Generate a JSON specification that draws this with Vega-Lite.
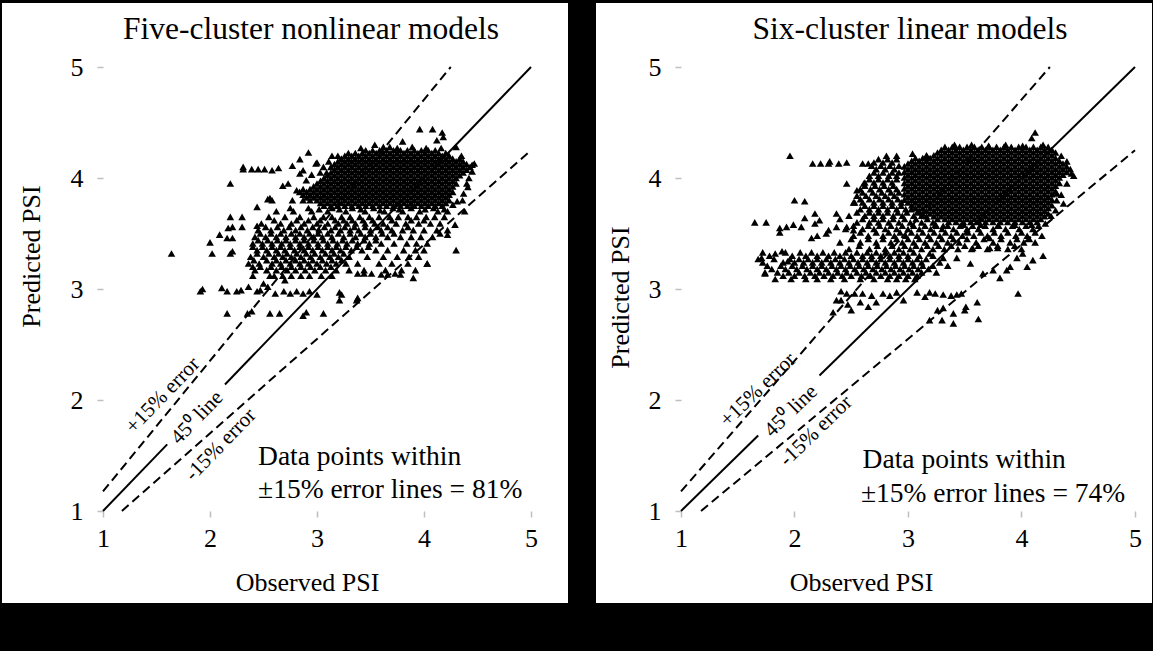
{
"$schema":"https://vega.github.io/schema/vega-lite/v6.json",
"background":"black",
"padding":{"left":2,"top":3,"right":1,"bottom":48},
"bounds":"flush",
"spacing":28,
"config":{
 "view":{"fill":"white","stroke":null},
 "font":"Liberation Serif",
 "axis":{"labelFont":"Liberation Serif","labelFontSize":26,"labelColor":"black","titleFont":"Liberation Serif","titleFontSize":26,"titleFontWeight":"normal","titleColor":"black","tickColor":"#bfbfbf","tickWidth":1.5,"tickSize":6,"domain":false,"grid":false,"labelFlush":false,"labelOverlap":false,"labelBound":false},
 "axisX":{"labelPadding":8,"titleBaseline":"alphabetic","titleAlign":"center"},
 "axisY":{"labelPadding":14,"titleBaseline":"middle","titleAlign":"center","titleAngle":-90}
},
"datasets":{
"L":[
{"x":3.455,"y":4.25},{"x":3.52,"y":4.25},{"x":3.585,"y":4.25},{"x":3.65,"y":4.25},{"x":3.715,"y":4.25},{"x":3.78,"y":4.25},{"x":3.845,"y":4.25},{"x":3.91,"y":4.25},{"x":3.975,"y":4.25},{"x":4.04,"y":4.25},{"x":4.105,"y":4.25},
{"x":3.293,"y":4.225},{"x":3.358,"y":4.225},{"x":3.423,"y":4.225},{"x":3.488,"y":4.225},{"x":3.553,"y":4.225},{"x":3.618,"y":4.225},{"x":3.683,"y":4.225},{"x":3.748,"y":4.225},{"x":3.813,"y":4.225},{"x":3.878,"y":4.225},{"x":3.943,"y":4.225},{"x":4.008,"y":4.225},{"x":4.073,"y":4.225},{"x":4.138,"y":4.225},{"x":4.203,"y":4.225},
{"x":3.195,"y":4.2},{"x":3.26,"y":4.2},{"x":3.325,"y":4.2},{"x":3.39,"y":4.2},{"x":3.455,"y":4.2},{"x":3.52,"y":4.2},{"x":3.585,"y":4.2},{"x":3.65,"y":4.2},{"x":3.715,"y":4.2},{"x":3.78,"y":4.2},{"x":3.845,"y":4.2},{"x":3.91,"y":4.2},{"x":3.975,"y":4.2},{"x":4.04,"y":4.2},{"x":4.105,"y":4.2},{"x":4.17,"y":4.2},{"x":4.235,"y":4.2},
{"x":3.228,"y":4.175},{"x":3.293,"y":4.175},{"x":3.358,"y":4.175},{"x":3.423,"y":4.175},{"x":3.488,"y":4.175},{"x":3.553,"y":4.175},{"x":3.618,"y":4.175},{"x":3.683,"y":4.175},{"x":3.748,"y":4.175},{"x":3.813,"y":4.175},{"x":3.878,"y":4.175},{"x":3.943,"y":4.175},{"x":4.008,"y":4.175},{"x":4.073,"y":4.175},{"x":4.138,"y":4.175},{"x":4.203,"y":4.175},{"x":4.268,"y":4.175},{"x":4.333,"y":4.175},
{"x":3.195,"y":4.15},{"x":3.26,"y":4.15},{"x":3.325,"y":4.15},{"x":3.39,"y":4.15},{"x":3.455,"y":4.15},{"x":3.52,"y":4.15},{"x":3.585,"y":4.15},{"x":3.65,"y":4.15},{"x":3.715,"y":4.15},{"x":3.78,"y":4.15},{"x":3.845,"y":4.15},{"x":3.91,"y":4.15},{"x":3.975,"y":4.15},{"x":4.04,"y":4.15},{"x":4.105,"y":4.15},{"x":4.17,"y":4.15},{"x":4.235,"y":4.15},{"x":4.3,"y":4.15},{"x":4.365,"y":4.15},
{"x":3.163,"y":4.125},{"x":3.228,"y":4.125},{"x":3.293,"y":4.125},{"x":3.358,"y":4.125},{"x":3.423,"y":4.125},{"x":3.488,"y":4.125},{"x":3.553,"y":4.125},{"x":3.618,"y":4.125},{"x":3.683,"y":4.125},{"x":3.748,"y":4.125},{"x":3.813,"y":4.125},{"x":3.878,"y":4.125},{"x":3.943,"y":4.125},{"x":4.008,"y":4.125},{"x":4.073,"y":4.125},{"x":4.138,"y":4.125},{"x":4.203,"y":4.125},{"x":4.268,"y":4.125},{"x":4.333,"y":4.125},{"x":4.398,"y":4.125},
{"x":3.13,"y":4.1},{"x":3.195,"y":4.1},{"x":3.26,"y":4.1},{"x":3.325,"y":4.1},{"x":3.39,"y":4.1},{"x":3.455,"y":4.1},{"x":3.52,"y":4.1},{"x":3.585,"y":4.1},{"x":3.65,"y":4.1},{"x":3.715,"y":4.1},{"x":3.78,"y":4.1},{"x":3.845,"y":4.1},{"x":3.91,"y":4.1},{"x":3.975,"y":4.1},{"x":4.04,"y":4.1},{"x":4.105,"y":4.1},{"x":4.17,"y":4.1},{"x":4.235,"y":4.1},{"x":4.3,"y":4.1},{"x":4.365,"y":4.1},{"x":4.43,"y":4.1},
{"x":3.163,"y":4.075},{"x":3.228,"y":4.075},{"x":3.293,"y":4.075},{"x":3.358,"y":4.075},{"x":3.423,"y":4.075},{"x":3.488,"y":4.075},{"x":3.553,"y":4.075},{"x":3.618,"y":4.075},{"x":3.683,"y":4.075},{"x":3.748,"y":4.075},{"x":3.813,"y":4.075},{"x":3.878,"y":4.075},{"x":3.943,"y":4.075},{"x":4.008,"y":4.075},{"x":4.073,"y":4.075},{"x":4.138,"y":4.075},{"x":4.203,"y":4.075},{"x":4.268,"y":4.075},{"x":4.333,"y":4.075},{"x":4.398,"y":4.075},
{"x":3.13,"y":4.05},{"x":3.195,"y":4.05},{"x":3.26,"y":4.05},{"x":3.325,"y":4.05},{"x":3.39,"y":4.05},{"x":3.455,"y":4.05},{"x":3.52,"y":4.05},{"x":3.585,"y":4.05},{"x":3.65,"y":4.05},{"x":3.715,"y":4.05},{"x":3.78,"y":4.05},{"x":3.845,"y":4.05},{"x":3.91,"y":4.05},{"x":3.975,"y":4.05},{"x":4.04,"y":4.05},{"x":4.105,"y":4.05},{"x":4.17,"y":4.05},{"x":4.235,"y":4.05},{"x":4.3,"y":4.05},{"x":4.365,"y":4.05},
{"x":3.098,"y":4.025},{"x":3.163,"y":4.025},{"x":3.228,"y":4.025},{"x":3.293,"y":4.025},{"x":3.358,"y":4.025},{"x":3.423,"y":4.025},{"x":3.488,"y":4.025},{"x":3.553,"y":4.025},{"x":3.618,"y":4.025},{"x":3.683,"y":4.025},{"x":3.748,"y":4.025},{"x":3.813,"y":4.025},{"x":3.878,"y":4.025},{"x":3.943,"y":4.025},{"x":4.008,"y":4.025},{"x":4.073,"y":4.025},{"x":4.138,"y":4.025},{"x":4.203,"y":4.025},{"x":4.268,"y":4.025},{"x":4.333,"y":4.025},
{"x":3.065,"y":4.0},{"x":3.13,"y":4.0},{"x":3.195,"y":4.0},{"x":3.26,"y":4.0},{"x":3.325,"y":4.0},{"x":3.39,"y":4.0},{"x":3.455,"y":4.0},{"x":3.52,"y":4.0},{"x":3.585,"y":4.0},{"x":3.65,"y":4.0},{"x":3.715,"y":4.0},{"x":3.78,"y":4.0},{"x":3.845,"y":4.0},{"x":3.91,"y":4.0},{"x":3.975,"y":4.0},{"x":4.04,"y":4.0},{"x":4.105,"y":4.0},{"x":4.17,"y":4.0},{"x":4.235,"y":4.0},{"x":4.3,"y":4.0},
{"x":3.033,"y":3.975},{"x":3.098,"y":3.975},{"x":3.163,"y":3.975},{"x":3.228,"y":3.975},{"x":3.293,"y":3.975},{"x":3.358,"y":3.975},{"x":3.423,"y":3.975},{"x":3.488,"y":3.975},{"x":3.553,"y":3.975},{"x":3.618,"y":3.975},{"x":3.683,"y":3.975},{"x":3.748,"y":3.975},{"x":3.813,"y":3.975},{"x":3.878,"y":3.975},{"x":3.943,"y":3.975},{"x":4.008,"y":3.975},{"x":4.073,"y":3.975},{"x":4.138,"y":3.975},{"x":4.203,"y":3.975},{"x":4.268,"y":3.975},
{"x":3.0,"y":3.95},{"x":3.065,"y":3.95},{"x":3.13,"y":3.95},{"x":3.195,"y":3.95},{"x":3.26,"y":3.95},{"x":3.325,"y":3.95},{"x":3.39,"y":3.95},{"x":3.455,"y":3.95},{"x":3.52,"y":3.95},{"x":3.585,"y":3.95},{"x":3.65,"y":3.95},{"x":3.715,"y":3.95},{"x":3.78,"y":3.95},{"x":3.845,"y":3.95},{"x":3.91,"y":3.95},{"x":3.975,"y":3.95},{"x":4.04,"y":3.95},{"x":4.105,"y":3.95},{"x":4.17,"y":3.95},{"x":4.235,"y":3.95},{"x":4.3,"y":3.95},
{"x":2.968,"y":3.925},{"x":3.033,"y":3.925},{"x":3.098,"y":3.925},{"x":3.163,"y":3.925},{"x":3.228,"y":3.925},{"x":3.293,"y":3.925},{"x":3.358,"y":3.925},{"x":3.423,"y":3.925},{"x":3.488,"y":3.925},{"x":3.553,"y":3.925},{"x":3.618,"y":3.925},{"x":3.683,"y":3.925},{"x":3.748,"y":3.925},{"x":3.813,"y":3.925},{"x":3.878,"y":3.925},{"x":3.943,"y":3.925},{"x":4.008,"y":3.925},{"x":4.073,"y":3.925},{"x":4.138,"y":3.925},{"x":4.203,"y":3.925},{"x":4.268,"y":3.925},
{"x":2.87,"y":3.9},{"x":2.935,"y":3.9},{"x":3.0,"y":3.9},{"x":3.065,"y":3.9},{"x":3.13,"y":3.9},{"x":3.195,"y":3.9},{"x":3.26,"y":3.9},{"x":3.325,"y":3.9},{"x":3.39,"y":3.9},{"x":3.455,"y":3.9},{"x":3.52,"y":3.9},{"x":3.585,"y":3.9},{"x":3.65,"y":3.9},{"x":3.715,"y":3.9},{"x":3.78,"y":3.9},{"x":3.845,"y":3.9},{"x":3.91,"y":3.9},{"x":3.975,"y":3.9},{"x":4.04,"y":3.9},{"x":4.105,"y":3.9},{"x":4.17,"y":3.9},{"x":4.235,"y":3.9},
{"x":2.838,"y":3.875},{"x":2.903,"y":3.875},{"x":2.968,"y":3.875},{"x":3.033,"y":3.875},{"x":3.098,"y":3.875},{"x":3.163,"y":3.875},{"x":3.228,"y":3.875},{"x":3.293,"y":3.875},{"x":3.358,"y":3.875},{"x":3.423,"y":3.875},{"x":3.488,"y":3.875},{"x":3.553,"y":3.875},{"x":3.618,"y":3.875},{"x":3.683,"y":3.875},{"x":3.748,"y":3.875},{"x":3.813,"y":3.875},{"x":3.878,"y":3.875},{"x":3.943,"y":3.875},{"x":4.008,"y":3.875},{"x":4.073,"y":3.875},{"x":4.138,"y":3.875},{"x":4.203,"y":3.875},{"x":4.268,"y":3.875},
{"x":2.87,"y":3.85},{"x":2.935,"y":3.85},{"x":3.0,"y":3.85},{"x":3.065,"y":3.85},{"x":3.13,"y":3.85},{"x":3.195,"y":3.85},{"x":3.26,"y":3.85},{"x":3.325,"y":3.85},{"x":3.39,"y":3.85},{"x":3.455,"y":3.85},{"x":3.52,"y":3.85},{"x":3.585,"y":3.85},{"x":3.65,"y":3.85},{"x":3.715,"y":3.85},{"x":3.78,"y":3.85},{"x":3.845,"y":3.85},{"x":3.91,"y":3.85},{"x":3.975,"y":3.85},{"x":4.04,"y":3.85},{"x":4.105,"y":3.85},{"x":4.17,"y":3.85},{"x":4.235,"y":3.85},
{"x":2.903,"y":3.825},{"x":2.968,"y":3.825},{"x":3.033,"y":3.825},{"x":3.098,"y":3.825},{"x":3.163,"y":3.825},{"x":3.228,"y":3.825},{"x":3.293,"y":3.825},{"x":3.358,"y":3.825},{"x":3.423,"y":3.825},{"x":3.488,"y":3.825},{"x":3.553,"y":3.825},{"x":3.618,"y":3.825},{"x":3.683,"y":3.825},{"x":3.748,"y":3.825},{"x":3.813,"y":3.825},{"x":3.878,"y":3.825},{"x":3.943,"y":3.825},{"x":4.008,"y":3.825},{"x":4.073,"y":3.825},{"x":4.138,"y":3.825},{"x":4.203,"y":3.825},
{"x":2.87,"y":3.8},{"x":2.935,"y":3.8},{"x":3.0,"y":3.8},{"x":3.065,"y":3.8},{"x":3.13,"y":3.8},{"x":3.195,"y":3.8},{"x":3.26,"y":3.8},{"x":3.325,"y":3.8},{"x":3.39,"y":3.8},{"x":3.455,"y":3.8},{"x":3.52,"y":3.8},{"x":3.585,"y":3.8},{"x":3.65,"y":3.8},{"x":3.715,"y":3.8},{"x":3.78,"y":3.8},{"x":3.845,"y":3.8},{"x":3.91,"y":3.8},{"x":3.975,"y":3.8},{"x":4.04,"y":3.8},{"x":4.105,"y":3.8},{"x":4.17,"y":3.8},{"x":4.235,"y":3.8},
{"x":3.033,"y":3.775},{"x":3.098,"y":3.775},{"x":3.163,"y":3.775},{"x":3.228,"y":3.775},{"x":3.293,"y":3.775},{"x":3.358,"y":3.775},{"x":3.423,"y":3.775},{"x":3.488,"y":3.775},{"x":3.553,"y":3.775},{"x":3.618,"y":3.775},{"x":3.683,"y":3.775},{"x":3.748,"y":3.775},{"x":3.813,"y":3.775},{"x":3.878,"y":3.775},{"x":3.943,"y":3.775},{"x":4.008,"y":3.775},{"x":4.073,"y":3.775},{"x":4.138,"y":3.775},{"x":4.203,"y":3.775},
{"x":3.065,"y":3.75},{"x":3.13,"y":3.75},{"x":3.195,"y":3.75},{"x":3.26,"y":3.75},{"x":3.325,"y":3.75},{"x":3.39,"y":3.75},{"x":3.455,"y":3.75},{"x":3.52,"y":3.75},{"x":3.585,"y":3.75},{"x":3.65,"y":3.75},{"x":3.715,"y":3.75},{"x":3.78,"y":3.75},{"x":3.845,"y":3.75},{"x":3.91,"y":3.75},{"x":3.975,"y":3.75},{"x":4.04,"y":3.75},{"x":4.105,"y":3.75},{"x":4.17,"y":3.75},
{"x":2.92,"y":3.73},{"x":3.02,"y":3.72},{"x":3.14,"y":3.73},{"x":3.21,"y":3.72},{"x":3.33,"y":3.73},{"x":3.41,"y":3.72},{"x":3.53,"y":3.73},{"x":3.59,"y":3.71},{"x":3.71,"y":3.73},{"x":3.77,"y":3.72},{"x":3.88,"y":3.73},{"x":4.01,"y":3.72},{"x":4.09,"y":3.73},{"x":4.19,"y":3.72},{"x":4.27,"y":3.76},
{"x":3.41,"y":4.27},{"x":3.62,"y":4.28},{"x":3.75,"y":4.27},{"x":3.89,"y":4.28},{"x":4.02,"y":4.27},{"x":4.16,"y":4.27},
{"x":4.42,"y":4.00},{"x":4.45,"y":4.06},{"x":4.41,"y":3.92},{"x":4.37,"y":3.86},{"x":4.31,"y":3.79},{"x":3.09,"y":4.05},{"x":3.11,"y":4.15},{"x":3.14,"y":4.20},{"x":3.06,"y":4.10},
{"x":2.62,"y":3.70},{"x":2.78,"y":3.70},{"x":2.95,"y":3.70},{"x":3.10,"y":3.70},{"x":3.27,"y":3.70},{"x":3.45,"y":3.70},{"x":3.63,"y":3.70},{"x":3.80,"y":3.70},{"x":3.96,"y":3.70},{"x":4.13,"y":3.70},{"x":4.22,"y":3.70},
{"x":2.55,"y":3.65},{"x":2.70,"y":3.65},{"x":2.84,"y":3.65},{"x":2.97,"y":3.65},{"x":3.06,"y":3.65},{"x":3.14,"y":3.65},{"x":3.23,"y":3.65},{"x":3.31,"y":3.65},{"x":3.40,"y":3.65},{"x":3.49,"y":3.65},{"x":3.58,"y":3.65},{"x":3.68,"y":3.65},{"x":3.76,"y":3.65},{"x":3.85,"y":3.65},{"x":3.93,"y":3.65},{"x":4.02,"y":3.65},{"x":4.10,"y":3.65},{"x":4.19,"y":3.65},
{"x":2.60,"y":3.62},{"x":2.81,"y":3.62},{"x":2.92,"y":3.62},{"x":3.03,"y":3.62},{"x":3.17,"y":3.62},{"x":3.25,"y":3.62},{"x":3.33,"y":3.62},{"x":3.43,"y":3.62},{"x":3.52,"y":3.62},{"x":3.70,"y":3.62},{"x":3.88,"y":3.62},{"x":4.00,"y":3.62},
{"x":2.48,"y":3.59},{"x":2.66,"y":3.59},{"x":2.76,"y":3.59},{"x":2.88,"y":3.59},{"x":3.00,"y":3.59},{"x":3.10,"y":3.59},{"x":3.20,"y":3.59},{"x":3.28,"y":3.59},{"x":3.36,"y":3.59},{"x":3.45,"y":3.59},{"x":3.54,"y":3.59},{"x":3.62,"y":3.59},{"x":3.74,"y":3.59},{"x":3.83,"y":3.59},{"x":3.95,"y":3.59},{"x":4.06,"y":3.59},{"x":4.15,"y":3.59},
{"x":2.52,"y":3.56},{"x":2.63,"y":3.56},{"x":2.74,"y":3.56},{"x":2.85,"y":3.56},{"x":2.96,"y":3.56},{"x":3.07,"y":3.56},{"x":3.17,"y":3.56},{"x":3.26,"y":3.56},{"x":3.35,"y":3.56},{"x":3.45,"y":3.56},{"x":3.57,"y":3.56},{"x":3.66,"y":3.56},{"x":3.85,"y":3.56},
{"x":2.45,"y":3.53},{"x":2.57,"y":3.53},{"x":2.69,"y":3.53},{"x":2.80,"y":3.53},{"x":2.91,"y":3.53},{"x":3.02,"y":3.53},{"x":3.13,"y":3.53},{"x":3.22,"y":3.53},{"x":3.31,"y":3.53},{"x":3.39,"y":3.53},{"x":3.50,"y":3.53},{"x":3.60,"y":3.53},{"x":3.70,"y":3.53},{"x":3.80,"y":3.53},{"x":3.90,"y":3.53},{"x":4.00,"y":3.53},{"x":4.12,"y":3.53},{"x":4.22,"y":3.53},
{"x":2.47,"y":3.50},{"x":2.57,"y":3.50},{"x":2.66,"y":3.50},{"x":2.76,"y":3.50},{"x":2.84,"y":3.50},{"x":2.93,"y":3.50},{"x":3.01,"y":3.50},{"x":3.10,"y":3.50},{"x":3.20,"y":3.50},{"x":3.31,"y":3.50},{"x":3.41,"y":3.50},{"x":3.50,"y":3.50},{"x":3.61,"y":3.50},{"x":3.72,"y":3.50},
{"x":2.42,"y":3.47},{"x":2.52,"y":3.47},{"x":2.62,"y":3.47},{"x":2.71,"y":3.47},{"x":2.80,"y":3.47},{"x":2.88,"y":3.47},{"x":2.97,"y":3.47},{"x":3.05,"y":3.47},{"x":3.14,"y":3.47},{"x":3.25,"y":3.47},{"x":3.36,"y":3.47},{"x":3.45,"y":3.47},{"x":3.55,"y":3.47},{"x":3.66,"y":3.47},{"x":3.78,"y":3.47},{"x":3.88,"y":3.47},{"x":3.97,"y":3.47},{"x":4.08,"y":3.47},
{"x":2.45,"y":3.44},{"x":2.54,"y":3.44},{"x":2.63,"y":3.44},{"x":2.71,"y":3.44},{"x":2.80,"y":3.44},{"x":2.88,"y":3.44},{"x":2.97,"y":3.44},{"x":3.06,"y":3.44},{"x":3.15,"y":3.44},{"x":3.24,"y":3.44},{"x":3.33,"y":3.44},{"x":3.44,"y":3.44},{"x":3.55,"y":3.44},
{"x":2.40,"y":3.41},{"x":2.49,"y":3.41},{"x":2.58,"y":3.41},{"x":2.67,"y":3.41},{"x":2.75,"y":3.41},{"x":2.84,"y":3.41},{"x":2.92,"y":3.41},{"x":3.01,"y":3.41},{"x":3.10,"y":3.41},{"x":3.19,"y":3.41},{"x":3.28,"y":3.41},{"x":3.38,"y":3.41},{"x":3.49,"y":3.41},{"x":3.60,"y":3.41},{"x":3.72,"y":3.41},{"x":3.84,"y":3.41},{"x":3.93,"y":3.41},{"x":4.03,"y":3.41},
{"x":2.40,"y":3.38},{"x":2.49,"y":3.38},{"x":2.58,"y":3.38},{"x":2.66,"y":3.38},{"x":2.75,"y":3.38},{"x":2.84,"y":3.38},{"x":2.92,"y":3.38},{"x":3.01,"y":3.38},{"x":3.10,"y":3.38},{"x":3.18,"y":3.38},{"x":3.27,"y":3.38},{"x":3.37,"y":3.38},{"x":3.48,"y":3.38},
{"x":2.44,"y":3.35},{"x":2.53,"y":3.35},{"x":2.62,"y":3.35},{"x":2.70,"y":3.35},{"x":2.79,"y":3.35},{"x":2.88,"y":3.35},{"x":2.96,"y":3.35},{"x":3.05,"y":3.35},{"x":3.14,"y":3.35},{"x":3.22,"y":3.35},{"x":3.32,"y":3.35},{"x":3.42,"y":3.35},{"x":3.55,"y":3.35},{"x":3.66,"y":3.35},{"x":3.81,"y":3.35},{"x":3.92,"y":3.35},{"x":4.00,"y":3.35},
{"x":2.44,"y":3.32},{"x":2.55,"y":3.32},{"x":2.64,"y":3.32},{"x":2.72,"y":3.32},{"x":2.81,"y":3.32},{"x":2.90,"y":3.32},{"x":2.98,"y":3.32},{"x":3.08,"y":3.32},{"x":3.16,"y":3.32},{"x":3.25,"y":3.32},
{"x":2.38,"y":3.29},{"x":2.50,"y":3.29},{"x":2.60,"y":3.29},{"x":2.68,"y":3.29},{"x":2.76,"y":3.29},{"x":2.85,"y":3.29},{"x":2.94,"y":3.29},{"x":3.03,"y":3.29},{"x":3.12,"y":3.29},{"x":3.20,"y":3.29},{"x":3.30,"y":3.29},{"x":3.47,"y":3.29},{"x":3.62,"y":3.29},{"x":3.75,"y":3.29},{"x":3.86,"y":3.29},{"x":3.95,"y":3.29},
{"x":2.41,"y":3.26},{"x":2.53,"y":3.26},{"x":2.62,"y":3.26},{"x":2.71,"y":3.26},{"x":2.80,"y":3.26},{"x":2.88,"y":3.26},{"x":2.96,"y":3.26},{"x":3.05,"y":3.26},{"x":3.14,"y":3.26},{"x":3.23,"y":3.26},
{"x":2.36,"y":3.23},{"x":2.46,"y":3.23},{"x":2.58,"y":3.23},{"x":2.66,"y":3.23},{"x":2.75,"y":3.23},{"x":2.84,"y":3.23},{"x":2.92,"y":3.23},{"x":3.00,"y":3.23},{"x":3.09,"y":3.23},{"x":3.18,"y":3.23},{"x":3.27,"y":3.23},{"x":3.38,"y":3.23},{"x":3.58,"y":3.23},{"x":3.70,"y":3.23},{"x":3.85,"y":3.23},{"x":4.03,"y":3.23},
{"x":2.47,"y":3.20},{"x":2.57,"y":3.20},{"x":2.67,"y":3.20},{"x":2.76,"y":3.20},{"x":2.85,"y":3.20},{"x":2.94,"y":3.20},{"x":3.03,"y":3.20},{"x":3.13,"y":3.20},
{"x":2.42,"y":3.17},{"x":2.53,"y":3.17},{"x":2.62,"y":3.17},{"x":2.72,"y":3.17},{"x":2.80,"y":3.17},{"x":2.89,"y":3.17},{"x":2.98,"y":3.17},{"x":3.08,"y":3.17},{"x":3.18,"y":3.17},{"x":3.30,"y":3.17},{"x":3.44,"y":3.17},{"x":3.64,"y":3.17},{"x":3.79,"y":3.17},{"x":3.92,"y":3.17},
{"x":2.40,"y":3.12},{"x":2.56,"y":3.12},{"x":2.68,"y":3.12},{"x":2.76,"y":3.12},{"x":2.85,"y":3.12},{"x":2.93,"y":3.12},{"x":3.04,"y":3.12},{"x":3.14,"y":3.12},{"x":3.38,"y":3.14},{"x":3.44,"y":3.14},{"x":3.51,"y":3.14},{"x":3.60,"y":3.13},{"x":3.66,"y":3.13},{"x":3.73,"y":3.14},{"x":3.90,"y":3.10},
{"x":2.92,"y":4.23},{"x":2.84,"y":4.17},{"x":2.77,"y":4.11},{"x":2.99,"y":4.13},{"x":2.84,"y":4.04},{"x":2.68,"y":3.93},{"x":2.58,"y":3.80},{"x":2.44,"y":3.74},{"x":2.56,"y":3.82},{"x":2.73,"y":3.95},{"x":2.77,"y":3.80},{"x":2.81,"y":3.89},{"x":2.87,"y":4.07},{"x":2.90,"y":3.98},{"x":2.95,"y":4.03},{"x":3.00,"y":4.14},{"x":3.03,"y":4.05},{"x":2.75,"y":3.73},
{"x":2.31,"y":4.08},{"x":2.31,"y":4.10},{"x":2.39,"y":4.08},{"x":2.45,"y":4.08},{"x":2.51,"y":4.08},{"x":2.58,"y":4.07},{"x":2.64,"y":4.09},
{"x":2.19,"y":3.95},{"x":2.54,"y":3.81},{"x":2.19,"y":3.65},{"x":2.30,"y":3.65},{"x":2.17,"y":3.55},{"x":2.21,"y":3.56},{"x":2.30,"y":3.56},{"x":2.44,"y":3.57},{"x":2.09,"y":3.49},{"x":2.16,"y":3.46},{"x":2.21,"y":3.46},{"x":2.00,"y":3.42},{"x":1.64,"y":3.32},{"x":2.02,"y":3.32},{"x":2.19,"y":3.32},{"x":2.21,"y":3.34},{"x":1.93,"y":3.00},{"x":1.91,"y":2.98},
{"x":2.11,"y":3.01},{"x":2.16,"y":2.98},{"x":2.25,"y":2.98},{"x":2.29,"y":2.99},{"x":2.36,"y":3.02},{"x":2.44,"y":2.98},{"x":2.47,"y":2.99},{"x":2.54,"y":3.02},{"x":2.61,"y":2.96},{"x":2.69,"y":2.98},{"x":2.75,"y":2.96},{"x":2.81,"y":2.98},{"x":2.87,"y":2.96},{"x":2.93,"y":2.98},{"x":3.00,"y":2.95},
{"x":2.16,"y":2.78},{"x":2.35,"y":2.78},{"x":2.39,"y":2.80},{"x":2.56,"y":2.78},{"x":2.65,"y":2.78},{"x":2.87,"y":2.76},{"x":2.90,"y":2.79},{"x":3.06,"y":2.78},
{"x":3.21,"y":2.97},{"x":3.21,"y":2.90},{"x":3.37,"y":2.90},{"x":3.23,"y":2.95},{"x":3.38,"y":2.92},
{"x":3.78,"y":3.13},{"x":4.03,"y":3.23},{"x":4.15,"y":3.50},{"x":4.22,"y":3.49},{"x":4.29,"y":3.58},{"x":4.36,"y":3.80},{"x":4.45,"y":4.12},{"x":4.47,"y":4.13},{"x":3.96,"y":4.44},{"x":4.08,"y":4.44},{"x":4.17,"y":4.41},{"x":4.18,"y":4.37},{"x":4.12,"y":4.34},{"x":3.54,"y":4.30},{"x":3.80,"y":4.33},{"x":3.68,"y":4.28},{"x":4.30,"y":4.28},{"x":4.35,"y":4.20},{"x":4.40,"y":3.95},{"x":4.38,"y":3.70},{"x":4.30,"y":3.35},{"x":2.60,"y":3.12},{"x":2.50,"y":3.05},{"x":2.70,"y":3.08},{"x":2.40,"y":3.20}
],
"R":[
{"x":3.325,"y":4.28},{"x":3.39,"y":4.28},{"x":3.455,"y":4.28},{"x":3.52,"y":4.28},{"x":3.585,"y":4.28},{"x":3.65,"y":4.28},{"x":3.715,"y":4.28},{"x":3.78,"y":4.28},{"x":3.845,"y":4.28},{"x":3.91,"y":4.28},{"x":3.975,"y":4.28},{"x":4.04,"y":4.28},{"x":4.105,"y":4.28},{"x":4.17,"y":4.28},{"x":4.235,"y":4.28},
{"x":3.293,"y":4.255},{"x":3.358,"y":4.255},{"x":3.423,"y":4.255},{"x":3.488,"y":4.255},{"x":3.553,"y":4.255},{"x":3.618,"y":4.255},{"x":3.683,"y":4.255},{"x":3.748,"y":4.255},{"x":3.813,"y":4.255},{"x":3.878,"y":4.255},{"x":3.943,"y":4.255},{"x":4.008,"y":4.255},{"x":4.073,"y":4.255},{"x":4.138,"y":4.255},{"x":4.203,"y":4.255},{"x":4.268,"y":4.255},
{"x":3.26,"y":4.23},{"x":3.325,"y":4.23},{"x":3.39,"y":4.23},{"x":3.455,"y":4.23},{"x":3.52,"y":4.23},{"x":3.585,"y":4.23},{"x":3.65,"y":4.23},{"x":3.715,"y":4.23},{"x":3.78,"y":4.23},{"x":3.845,"y":4.23},{"x":3.91,"y":4.23},{"x":3.975,"y":4.23},{"x":4.04,"y":4.23},{"x":4.105,"y":4.23},{"x":4.17,"y":4.23},{"x":4.235,"y":4.23},{"x":4.3,"y":4.23},
{"x":3.163,"y":4.205},{"x":3.228,"y":4.205},{"x":3.293,"y":4.205},{"x":3.358,"y":4.205},{"x":3.423,"y":4.205},{"x":3.488,"y":4.205},{"x":3.553,"y":4.205},{"x":3.618,"y":4.205},{"x":3.683,"y":4.205},{"x":3.748,"y":4.205},{"x":3.813,"y":4.205},{"x":3.878,"y":4.205},{"x":3.943,"y":4.205},{"x":4.008,"y":4.205},{"x":4.073,"y":4.205},{"x":4.138,"y":4.205},{"x":4.203,"y":4.205},{"x":4.268,"y":4.205},
{"x":3.065,"y":4.18},{"x":3.13,"y":4.18},{"x":3.195,"y":4.18},{"x":3.26,"y":4.18},{"x":3.325,"y":4.18},{"x":3.39,"y":4.18},{"x":3.455,"y":4.18},{"x":3.52,"y":4.18},{"x":3.585,"y":4.18},{"x":3.65,"y":4.18},{"x":3.715,"y":4.18},{"x":3.78,"y":4.18},{"x":3.845,"y":4.18},{"x":3.91,"y":4.18},{"x":3.975,"y":4.18},{"x":4.04,"y":4.18},{"x":4.105,"y":4.18},{"x":4.17,"y":4.18},{"x":4.235,"y":4.18},{"x":4.3,"y":4.18},
{"x":3.033,"y":4.155},{"x":3.098,"y":4.155},{"x":3.163,"y":4.155},{"x":3.228,"y":4.155},{"x":3.293,"y":4.155},{"x":3.358,"y":4.155},{"x":3.423,"y":4.155},{"x":3.488,"y":4.155},{"x":3.553,"y":4.155},{"x":3.618,"y":4.155},{"x":3.683,"y":4.155},{"x":3.748,"y":4.155},{"x":3.813,"y":4.155},{"x":3.878,"y":4.155},{"x":3.943,"y":4.155},{"x":4.008,"y":4.155},{"x":4.073,"y":4.155},{"x":4.138,"y":4.155},{"x":4.203,"y":4.155},{"x":4.268,"y":4.155},{"x":4.333,"y":4.155},
{"x":3.0,"y":4.13},{"x":3.065,"y":4.13},{"x":3.13,"y":4.13},{"x":3.195,"y":4.13},{"x":3.26,"y":4.13},{"x":3.325,"y":4.13},{"x":3.39,"y":4.13},{"x":3.455,"y":4.13},{"x":3.52,"y":4.13},{"x":3.585,"y":4.13},{"x":3.65,"y":4.13},{"x":3.715,"y":4.13},{"x":3.78,"y":4.13},{"x":3.845,"y":4.13},{"x":3.91,"y":4.13},{"x":3.975,"y":4.13},{"x":4.04,"y":4.13},{"x":4.105,"y":4.13},{"x":4.17,"y":4.13},{"x":4.235,"y":4.13},{"x":4.3,"y":4.13},{"x":4.365,"y":4.13},
{"x":2.968,"y":4.105},{"x":3.033,"y":4.105},{"x":3.098,"y":4.105},{"x":3.163,"y":4.105},{"x":3.228,"y":4.105},{"x":3.293,"y":4.105},{"x":3.358,"y":4.105},{"x":3.423,"y":4.105},{"x":3.488,"y":4.105},{"x":3.553,"y":4.105},{"x":3.618,"y":4.105},{"x":3.683,"y":4.105},{"x":3.748,"y":4.105},{"x":3.813,"y":4.105},{"x":3.878,"y":4.105},{"x":3.943,"y":4.105},{"x":4.008,"y":4.105},{"x":4.073,"y":4.105},{"x":4.138,"y":4.105},{"x":4.203,"y":4.105},{"x":4.268,"y":4.105},{"x":4.333,"y":4.105},{"x":4.398,"y":4.105},
{"x":3.0,"y":4.08},{"x":3.065,"y":4.08},{"x":3.13,"y":4.08},{"x":3.195,"y":4.08},{"x":3.26,"y":4.08},{"x":3.325,"y":4.08},{"x":3.39,"y":4.08},{"x":3.455,"y":4.08},{"x":3.52,"y":4.08},{"x":3.585,"y":4.08},{"x":3.65,"y":4.08},{"x":3.715,"y":4.08},{"x":3.78,"y":4.08},{"x":3.845,"y":4.08},{"x":3.91,"y":4.08},{"x":3.975,"y":4.08},{"x":4.04,"y":4.08},{"x":4.105,"y":4.08},{"x":4.17,"y":4.08},{"x":4.235,"y":4.08},{"x":4.3,"y":4.08},{"x":4.365,"y":4.08},{"x":4.43,"y":4.08},
{"x":2.968,"y":4.055},{"x":3.033,"y":4.055},{"x":3.098,"y":4.055},{"x":3.163,"y":4.055},{"x":3.228,"y":4.055},{"x":3.293,"y":4.055},{"x":3.358,"y":4.055},{"x":3.423,"y":4.055},{"x":3.488,"y":4.055},{"x":3.553,"y":4.055},{"x":3.618,"y":4.055},{"x":3.683,"y":4.055},{"x":3.748,"y":4.055},{"x":3.813,"y":4.055},{"x":3.878,"y":4.055},{"x":3.943,"y":4.055},{"x":4.008,"y":4.055},{"x":4.073,"y":4.055},{"x":4.138,"y":4.055},{"x":4.203,"y":4.055},{"x":4.268,"y":4.055},{"x":4.333,"y":4.055},{"x":4.398,"y":4.055},
{"x":3.0,"y":4.03},{"x":3.065,"y":4.03},{"x":3.13,"y":4.03},{"x":3.195,"y":4.03},{"x":3.26,"y":4.03},{"x":3.325,"y":4.03},{"x":3.39,"y":4.03},{"x":3.455,"y":4.03},{"x":3.52,"y":4.03},{"x":3.585,"y":4.03},{"x":3.65,"y":4.03},{"x":3.715,"y":4.03},{"x":3.78,"y":4.03},{"x":3.845,"y":4.03},{"x":3.91,"y":4.03},{"x":3.975,"y":4.03},{"x":4.04,"y":4.03},{"x":4.105,"y":4.03},{"x":4.17,"y":4.03},{"x":4.235,"y":4.03},{"x":4.3,"y":4.03},{"x":4.365,"y":4.03},
{"x":2.968,"y":4.005},{"x":3.033,"y":4.005},{"x":3.098,"y":4.005},{"x":3.163,"y":4.005},{"x":3.228,"y":4.005},{"x":3.293,"y":4.005},{"x":3.358,"y":4.005},{"x":3.423,"y":4.005},{"x":3.488,"y":4.005},{"x":3.553,"y":4.005},{"x":3.618,"y":4.005},{"x":3.683,"y":4.005},{"x":3.748,"y":4.005},{"x":3.813,"y":4.005},{"x":3.878,"y":4.005},{"x":3.943,"y":4.005},{"x":4.008,"y":4.005},{"x":4.073,"y":4.005},{"x":4.138,"y":4.005},{"x":4.203,"y":4.005},{"x":4.268,"y":4.005},{"x":4.333,"y":4.005},
{"x":3.0,"y":3.98},{"x":3.065,"y":3.98},{"x":3.13,"y":3.98},{"x":3.195,"y":3.98},{"x":3.26,"y":3.98},{"x":3.325,"y":3.98},{"x":3.39,"y":3.98},{"x":3.455,"y":3.98},{"x":3.52,"y":3.98},{"x":3.585,"y":3.98},{"x":3.65,"y":3.98},{"x":3.715,"y":3.98},{"x":3.78,"y":3.98},{"x":3.845,"y":3.98},{"x":3.91,"y":3.98},{"x":3.975,"y":3.98},{"x":4.04,"y":3.98},{"x":4.105,"y":3.98},{"x":4.17,"y":3.98},{"x":4.235,"y":3.98},{"x":4.3,"y":3.98},
{"x":2.968,"y":3.955},{"x":3.033,"y":3.955},{"x":3.098,"y":3.955},{"x":3.163,"y":3.955},{"x":3.228,"y":3.955},{"x":3.293,"y":3.955},{"x":3.358,"y":3.955},{"x":3.423,"y":3.955},{"x":3.488,"y":3.955},{"x":3.553,"y":3.955},{"x":3.618,"y":3.955},{"x":3.683,"y":3.955},{"x":3.748,"y":3.955},{"x":3.813,"y":3.955},{"x":3.878,"y":3.955},{"x":3.943,"y":3.955},{"x":4.008,"y":3.955},{"x":4.073,"y":3.955},{"x":4.138,"y":3.955},{"x":4.203,"y":3.955},{"x":4.268,"y":3.955},{"x":4.333,"y":3.955},
{"x":3.0,"y":3.93},{"x":3.065,"y":3.93},{"x":3.13,"y":3.93},{"x":3.195,"y":3.93},{"x":3.26,"y":3.93},{"x":3.325,"y":3.93},{"x":3.39,"y":3.93},{"x":3.455,"y":3.93},{"x":3.52,"y":3.93},{"x":3.585,"y":3.93},{"x":3.65,"y":3.93},{"x":3.715,"y":3.93},{"x":3.78,"y":3.93},{"x":3.845,"y":3.93},{"x":3.91,"y":3.93},{"x":3.975,"y":3.93},{"x":4.04,"y":3.93},{"x":4.105,"y":3.93},{"x":4.17,"y":3.93},{"x":4.235,"y":3.93},{"x":4.3,"y":3.93},
{"x":2.968,"y":3.905},{"x":3.033,"y":3.905},{"x":3.098,"y":3.905},{"x":3.163,"y":3.905},{"x":3.228,"y":3.905},{"x":3.293,"y":3.905},{"x":3.358,"y":3.905},{"x":3.423,"y":3.905},{"x":3.488,"y":3.905},{"x":3.553,"y":3.905},{"x":3.618,"y":3.905},{"x":3.683,"y":3.905},{"x":3.748,"y":3.905},{"x":3.813,"y":3.905},{"x":3.878,"y":3.905},{"x":3.943,"y":3.905},{"x":4.008,"y":3.905},{"x":4.073,"y":3.905},{"x":4.138,"y":3.905},{"x":4.203,"y":3.905},{"x":4.268,"y":3.905},
{"x":3.0,"y":3.88},{"x":3.065,"y":3.88},{"x":3.13,"y":3.88},{"x":3.195,"y":3.88},{"x":3.26,"y":3.88},{"x":3.325,"y":3.88},{"x":3.39,"y":3.88},{"x":3.455,"y":3.88},{"x":3.52,"y":3.88},{"x":3.585,"y":3.88},{"x":3.65,"y":3.88},{"x":3.715,"y":3.88},{"x":3.78,"y":3.88},{"x":3.845,"y":3.88},{"x":3.91,"y":3.88},{"x":3.975,"y":3.88},{"x":4.04,"y":3.88},{"x":4.105,"y":3.88},{"x":4.17,"y":3.88},{"x":4.235,"y":3.88},{"x":4.3,"y":3.88},
{"x":2.968,"y":3.855},{"x":3.033,"y":3.855},{"x":3.098,"y":3.855},{"x":3.163,"y":3.855},{"x":3.228,"y":3.855},{"x":3.293,"y":3.855},{"x":3.358,"y":3.855},{"x":3.423,"y":3.855},{"x":3.488,"y":3.855},{"x":3.553,"y":3.855},{"x":3.618,"y":3.855},{"x":3.683,"y":3.855},{"x":3.748,"y":3.855},{"x":3.813,"y":3.855},{"x":3.878,"y":3.855},{"x":3.943,"y":3.855},{"x":4.008,"y":3.855},{"x":4.073,"y":3.855},{"x":4.138,"y":3.855},{"x":4.203,"y":3.855},{"x":4.268,"y":3.855},
{"x":3.0,"y":3.83},{"x":3.065,"y":3.83},{"x":3.13,"y":3.83},{"x":3.195,"y":3.83},{"x":3.26,"y":3.83},{"x":3.325,"y":3.83},{"x":3.39,"y":3.83},{"x":3.455,"y":3.83},{"x":3.52,"y":3.83},{"x":3.585,"y":3.83},{"x":3.65,"y":3.83},{"x":3.715,"y":3.83},{"x":3.78,"y":3.83},{"x":3.845,"y":3.83},{"x":3.91,"y":3.83},{"x":3.975,"y":3.83},{"x":4.04,"y":3.83},{"x":4.105,"y":3.83},{"x":4.17,"y":3.83},{"x":4.235,"y":3.83},
{"x":2.968,"y":3.805},{"x":3.033,"y":3.805},{"x":3.098,"y":3.805},{"x":3.163,"y":3.805},{"x":3.228,"y":3.805},{"x":3.293,"y":3.805},{"x":3.358,"y":3.805},{"x":3.423,"y":3.805},{"x":3.488,"y":3.805},{"x":3.553,"y":3.805},{"x":3.618,"y":3.805},{"x":3.683,"y":3.805},{"x":3.748,"y":3.805},{"x":3.813,"y":3.805},{"x":3.878,"y":3.805},{"x":3.943,"y":3.805},{"x":4.008,"y":3.805},{"x":4.073,"y":3.805},{"x":4.138,"y":3.805},{"x":4.203,"y":3.805},{"x":4.268,"y":3.805},
{"x":3.0,"y":3.78},{"x":3.065,"y":3.78},{"x":3.13,"y":3.78},{"x":3.195,"y":3.78},{"x":3.26,"y":3.78},{"x":3.325,"y":3.78},{"x":3.39,"y":3.78},{"x":3.455,"y":3.78},{"x":3.52,"y":3.78},{"x":3.585,"y":3.78},{"x":3.65,"y":3.78},{"x":3.715,"y":3.78},{"x":3.78,"y":3.78},{"x":3.845,"y":3.78},{"x":3.91,"y":3.78},{"x":3.975,"y":3.78},{"x":4.04,"y":3.78},{"x":4.105,"y":3.78},{"x":4.17,"y":3.78},{"x":4.235,"y":3.78},
{"x":3.033,"y":3.755},{"x":3.098,"y":3.755},{"x":3.163,"y":3.755},{"x":3.228,"y":3.755},{"x":3.293,"y":3.755},{"x":3.358,"y":3.755},{"x":3.423,"y":3.755},{"x":3.488,"y":3.755},{"x":3.553,"y":3.755},{"x":3.618,"y":3.755},{"x":3.683,"y":3.755},{"x":3.748,"y":3.755},{"x":3.813,"y":3.755},{"x":3.878,"y":3.755},{"x":3.943,"y":3.755},{"x":4.008,"y":3.755},{"x":4.073,"y":3.755},{"x":4.138,"y":3.755},{"x":4.203,"y":3.755},{"x":4.268,"y":3.755},
{"x":3.065,"y":3.73},{"x":3.13,"y":3.73},{"x":3.195,"y":3.73},{"x":3.26,"y":3.73},{"x":3.325,"y":3.73},{"x":3.39,"y":3.73},{"x":3.455,"y":3.73},{"x":3.52,"y":3.73},{"x":3.585,"y":3.73},{"x":3.65,"y":3.73},{"x":3.715,"y":3.73},{"x":3.78,"y":3.73},{"x":3.845,"y":3.73},{"x":3.91,"y":3.73},{"x":3.975,"y":3.73},{"x":4.04,"y":3.73},{"x":4.105,"y":3.73},{"x":4.17,"y":3.73},{"x":4.235,"y":3.73},
{"x":3.098,"y":3.705},{"x":3.163,"y":3.705},{"x":3.228,"y":3.705},{"x":3.293,"y":3.705},{"x":3.358,"y":3.705},{"x":3.423,"y":3.705},{"x":3.488,"y":3.705},{"x":3.553,"y":3.705},{"x":3.618,"y":3.705},{"x":3.683,"y":3.705},{"x":3.748,"y":3.705},{"x":3.813,"y":3.705},{"x":3.878,"y":3.705},{"x":3.943,"y":3.705},{"x":4.008,"y":3.705},{"x":4.073,"y":3.705},{"x":4.138,"y":3.705},{"x":4.203,"y":3.705},
{"x":3.13,"y":3.68},{"x":3.195,"y":3.68},{"x":3.26,"y":3.68},{"x":3.325,"y":3.68},{"x":3.39,"y":3.68},{"x":3.455,"y":3.68},{"x":3.52,"y":3.68},{"x":3.585,"y":3.68},{"x":3.65,"y":3.68},{"x":3.715,"y":3.68},{"x":3.78,"y":3.68},{"x":3.845,"y":3.68},{"x":3.91,"y":3.68},{"x":3.975,"y":3.68},{"x":4.04,"y":3.68},{"x":4.105,"y":3.68},{"x":4.17,"y":3.68},{"x":4.235,"y":3.68},
{"x":3.163,"y":3.655},{"x":3.228,"y":3.655},{"x":3.293,"y":3.655},{"x":3.358,"y":3.655},{"x":3.423,"y":3.655},{"x":3.488,"y":3.655},{"x":3.553,"y":3.655},{"x":3.618,"y":3.655},{"x":3.683,"y":3.655},{"x":3.748,"y":3.655},{"x":3.813,"y":3.655},{"x":3.878,"y":3.655},{"x":3.943,"y":3.655},{"x":4.008,"y":3.655},{"x":4.073,"y":3.655},{"x":4.138,"y":3.655},{"x":4.203,"y":3.655},
{"x":3.26,"y":3.63},{"x":3.325,"y":3.63},{"x":3.39,"y":3.63},{"x":3.455,"y":3.63},{"x":3.52,"y":3.63},{"x":3.585,"y":3.63},{"x":3.65,"y":3.63},{"x":3.715,"y":3.63},{"x":3.78,"y":3.63},{"x":3.845,"y":3.63},{"x":3.91,"y":3.63},{"x":3.975,"y":3.63},{"x":4.04,"y":3.63},{"x":4.105,"y":3.63},{"x":4.17,"y":3.63},
{"x":3.358,"y":3.605},{"x":3.423,"y":3.605},{"x":3.488,"y":3.605},{"x":3.553,"y":3.605},{"x":3.618,"y":3.605},{"x":3.683,"y":3.605},{"x":3.748,"y":3.605},{"x":3.813,"y":3.605},{"x":3.878,"y":3.605},{"x":3.943,"y":3.605},{"x":4.008,"y":3.605},{"x":4.073,"y":3.605},{"x":4.138,"y":3.605},
{"x":3.41,"y":4.30},{"x":3.56,"y":4.30},{"x":3.71,"y":4.29},{"x":3.86,"y":4.30},{"x":4.01,"y":4.29},{"x":4.19,"y":4.30},
{"x":4.35,"y":4.20},{"x":4.40,"y":4.15},{"x":4.46,"y":4.02},{"x":4.40,"y":3.95},{"x":4.35,"y":3.85},{"x":4.31,"y":3.80},
{"x":3.24,"y":3.58},{"x":3.31,"y":3.57},{"x":3.49,"y":3.58},{"x":3.64,"y":3.58},{"x":3.79,"y":3.57},{"x":3.94,"y":3.58},{"x":4.09,"y":3.58},{"x":4.21,"y":3.59},{"x":4.26,"y":3.66},
{"x":2.81,"y":4.20},{"x":2.90,"y":4.20},{"x":2.74,"y":4.17},{"x":2.82,"y":4.17},{"x":2.90,"y":4.17},
{"x":2.70,"y":4.14},{"x":2.78,"y":4.14},{"x":2.86,"y":4.14},{"x":2.68,"y":4.11},{"x":2.76,"y":4.11},{"x":2.84,"y":4.11},{"x":2.92,"y":4.11},
{"x":2.72,"y":4.08},{"x":2.80,"y":4.08},{"x":2.88,"y":4.08},{"x":2.70,"y":4.05},{"x":2.78,"y":4.05},{"x":2.86,"y":4.05},{"x":2.92,"y":4.05},
{"x":2.66,"y":4.02},{"x":2.74,"y":4.02},{"x":2.83,"y":4.02},{"x":2.90,"y":4.02},{"x":2.66,"y":3.99},{"x":2.74,"y":3.99},{"x":2.82,"y":3.99},{"x":2.90,"y":3.99},
{"x":2.62,"y":3.96},{"x":2.70,"y":3.96},{"x":2.78,"y":3.96},{"x":2.86,"y":3.96},{"x":2.62,"y":3.93},{"x":2.71,"y":3.93},{"x":2.79,"y":3.93},{"x":2.87,"y":3.93},
{"x":2.58,"y":3.90},{"x":2.67,"y":3.90},{"x":2.75,"y":3.90},{"x":2.83,"y":3.90},{"x":2.90,"y":3.90},{"x":2.60,"y":3.87},{"x":2.69,"y":3.87},{"x":2.77,"y":3.87},{"x":2.85,"y":3.87},{"x":2.92,"y":3.87},
{"x":2.55,"y":3.84},{"x":2.63,"y":3.84},{"x":2.72,"y":3.84},{"x":2.80,"y":3.84},{"x":2.88,"y":3.84},{"x":2.58,"y":3.81},{"x":2.66,"y":3.81},{"x":2.75,"y":3.81},{"x":2.83,"y":3.81},{"x":2.91,"y":3.81},
{"x":2.52,"y":3.78},{"x":2.60,"y":3.78},{"x":2.70,"y":3.78},{"x":2.78,"y":3.78},{"x":2.86,"y":3.78},{"x":2.94,"y":3.78},{"x":2.62,"y":3.75},{"x":2.70,"y":3.75},{"x":2.78,"y":3.75},{"x":2.86,"y":3.75},{"x":2.94,"y":3.75},
{"x":2.58,"y":3.72},{"x":2.66,"y":3.72},{"x":2.74,"y":3.72},{"x":2.82,"y":3.72},{"x":2.90,"y":3.72},{"x":2.98,"y":3.72},{"x":3.03,"y":3.72},
{"x":2.55,"y":3.69},{"x":2.66,"y":3.69},{"x":2.74,"y":3.69},{"x":2.82,"y":3.69},{"x":2.91,"y":3.69},{"x":2.99,"y":3.69},{"x":3.08,"y":3.69},
{"x":2.48,"y":3.66},{"x":2.62,"y":3.66},{"x":2.70,"y":3.66},{"x":2.78,"y":3.66},{"x":2.87,"y":3.66},{"x":2.95,"y":3.66},{"x":3.05,"y":3.66},{"x":3.12,"y":3.66},
{"x":2.60,"y":3.63},{"x":2.70,"y":3.63},{"x":2.78,"y":3.63},{"x":2.87,"y":3.63},{"x":2.97,"y":3.63},{"x":3.07,"y":3.63},{"x":3.17,"y":3.63},
{"x":2.55,"y":3.60},{"x":2.66,"y":3.60},{"x":2.74,"y":3.60},{"x":2.83,"y":3.60},{"x":2.92,"y":3.60},{"x":3.02,"y":3.60},{"x":3.12,"y":3.60},{"x":3.22,"y":3.60},
{"x":2.52,"y":3.57},{"x":2.65,"y":3.57},{"x":2.75,"y":3.57},{"x":2.85,"y":3.57},{"x":2.95,"y":3.57},{"x":3.05,"y":3.57},{"x":3.15,"y":3.57},{"x":3.25,"y":3.57},{"x":3.35,"y":3.57},{"x":3.46,"y":3.57},{"x":3.57,"y":3.57},{"x":3.68,"y":3.57},{"x":3.80,"y":3.57},{"x":3.92,"y":3.57},{"x":4.04,"y":3.57},{"x":4.15,"y":3.57},
{"x":2.45,"y":3.54},{"x":2.60,"y":3.54},{"x":2.70,"y":3.54},{"x":2.80,"y":3.54},{"x":2.90,"y":3.54},{"x":3.00,"y":3.54},{"x":3.10,"y":3.54},{"x":3.20,"y":3.54},{"x":3.30,"y":3.54},{"x":3.40,"y":3.54},{"x":3.52,"y":3.54},{"x":3.62,"y":3.54},{"x":3.75,"y":3.54},{"x":3.86,"y":3.54},{"x":3.98,"y":3.54},{"x":4.10,"y":3.54},
{"x":2.58,"y":3.51},{"x":2.72,"y":3.51},{"x":2.83,"y":3.51},{"x":2.93,"y":3.51},{"x":3.03,"y":3.51},{"x":3.13,"y":3.51},{"x":3.23,"y":3.51},{"x":3.33,"y":3.51},{"x":3.43,"y":3.51},{"x":3.53,"y":3.51},{"x":3.64,"y":3.51},{"x":3.76,"y":3.51},{"x":3.88,"y":3.51},{"x":4.00,"y":3.51},{"x":4.12,"y":3.51},
{"x":2.52,"y":3.48},{"x":2.65,"y":3.48},{"x":2.78,"y":3.48},{"x":2.88,"y":3.48},{"x":2.98,"y":3.48},{"x":3.08,"y":3.48},{"x":3.18,"y":3.48},{"x":3.28,"y":3.48},{"x":3.38,"y":3.48},{"x":3.48,"y":3.48},{"x":3.58,"y":3.48},{"x":3.70,"y":3.48},{"x":3.82,"y":3.48},{"x":3.95,"y":3.48},{"x":4.05,"y":3.48},{"x":4.18,"y":3.48},
{"x":2.50,"y":3.45},{"x":2.65,"y":3.45},{"x":2.78,"y":3.45},{"x":2.90,"y":3.45},{"x":3.00,"y":3.45},{"x":3.10,"y":3.45},{"x":3.20,"y":3.45},{"x":3.30,"y":3.45},{"x":3.40,"y":3.45},{"x":3.52,"y":3.45},{"x":3.67,"y":3.45},{"x":3.82,"y":3.45},{"x":3.96,"y":3.45},{"x":4.07,"y":3.45},
{"x":2.40,"y":3.42},{"x":2.58,"y":3.42},{"x":2.72,"y":3.42},{"x":2.85,"y":3.42},{"x":2.95,"y":3.42},{"x":3.05,"y":3.42},{"x":3.15,"y":3.42},{"x":3.25,"y":3.42},{"x":3.35,"y":3.42},{"x":3.45,"y":3.42},{"x":3.60,"y":3.42},{"x":3.75,"y":3.42},{"x":3.90,"y":3.42},{"x":4.02,"y":3.42},{"x":4.12,"y":3.42},
{"x":2.57,"y":3.39},{"x":2.73,"y":3.39},{"x":2.86,"y":3.39},{"x":2.97,"y":3.39},{"x":3.07,"y":3.39},{"x":3.17,"y":3.39},{"x":3.27,"y":3.39},{"x":3.38,"y":3.39},{"x":3.50,"y":3.39},{"x":3.62,"y":3.39},{"x":3.79,"y":3.39},{"x":3.94,"y":3.39},
{"x":2.48,"y":3.36},{"x":2.66,"y":3.36},{"x":2.80,"y":3.36},{"x":2.92,"y":3.36},{"x":3.02,"y":3.36},{"x":3.12,"y":3.36},{"x":3.22,"y":3.36},{"x":3.32,"y":3.36},{"x":3.44,"y":3.36},{"x":3.56,"y":3.36},{"x":3.70,"y":3.36},{"x":3.88,"y":3.36},{"x":4.00,"y":3.36},
{"x":1.72,"y":3.33},{"x":1.92,"y":3.33},{"x":2.05,"y":3.33},{"x":2.15,"y":3.33},{"x":2.25,"y":3.33},{"x":2.35,"y":3.33},{"x":2.45,"y":3.33},{"x":2.55,"y":3.33},{"x":2.64,"y":3.33},{"x":2.72,"y":3.33},{"x":2.80,"y":3.33},{"x":2.88,"y":3.33},{"x":2.96,"y":3.33},{"x":3.05,"y":3.33},
{"x":1.78,"y":3.30},{"x":1.98,"y":3.30},{"x":2.10,"y":3.30},{"x":2.20,"y":3.30},{"x":2.30,"y":3.30},{"x":2.40,"y":3.30},{"x":2.50,"y":3.30},{"x":2.60,"y":3.30},{"x":2.68,"y":3.30},{"x":2.76,"y":3.30},{"x":2.84,"y":3.30},{"x":2.92,"y":3.30},{"x":3.00,"y":3.30},{"x":3.10,"y":3.30},{"x":3.22,"y":3.30},
{"x":1.68,"y":3.27},{"x":1.82,"y":3.27},{"x":1.96,"y":3.27},{"x":2.04,"y":3.27},{"x":2.12,"y":3.27},{"x":2.20,"y":3.27},{"x":2.28,"y":3.27},{"x":2.36,"y":3.27},{"x":2.44,"y":3.27},{"x":2.52,"y":3.27},{"x":2.60,"y":3.27},{"x":2.68,"y":3.27},{"x":2.76,"y":3.27},{"x":2.84,"y":3.27},{"x":2.92,"y":3.27},{"x":3.00,"y":3.27},{"x":3.08,"y":3.27},{"x":3.16,"y":3.27},
{"x":1.72,"y":3.24},{"x":1.90,"y":3.24},{"x":2.00,"y":3.24},{"x":2.08,"y":3.24},{"x":2.16,"y":3.24},{"x":2.24,"y":3.24},{"x":2.32,"y":3.24},{"x":2.40,"y":3.24},{"x":2.48,"y":3.24},{"x":2.56,"y":3.24},{"x":2.64,"y":3.24},{"x":2.72,"y":3.24},{"x":2.80,"y":3.24},{"x":2.88,"y":3.24},{"x":2.96,"y":3.24},{"x":3.04,"y":3.24},{"x":3.12,"y":3.24},{"x":3.28,"y":3.24},
{"x":1.76,"y":3.21},{"x":1.88,"y":3.21},{"x":1.98,"y":3.21},{"x":2.07,"y":3.21},{"x":2.16,"y":3.21},{"x":2.24,"y":3.21},{"x":2.33,"y":3.21},{"x":2.41,"y":3.21},{"x":2.49,"y":3.21},{"x":2.57,"y":3.21},{"x":2.65,"y":3.21},{"x":2.73,"y":3.21},{"x":2.81,"y":3.21},{"x":2.89,"y":3.21},{"x":2.97,"y":3.21},{"x":3.05,"y":3.21},{"x":3.13,"y":3.21},{"x":3.22,"y":3.21},{"x":3.35,"y":3.21},
{"x":1.80,"y":3.18},{"x":1.92,"y":3.18},{"x":2.02,"y":3.18},{"x":2.11,"y":3.18},{"x":2.20,"y":3.18},{"x":2.28,"y":3.18},{"x":2.37,"y":3.18},{"x":2.45,"y":3.18},{"x":2.53,"y":3.18},{"x":2.61,"y":3.18},{"x":2.69,"y":3.18},{"x":2.77,"y":3.18},{"x":2.85,"y":3.18},{"x":2.93,"y":3.18},{"x":3.01,"y":3.18},{"x":3.09,"y":3.18},{"x":3.18,"y":3.18},
{"x":1.74,"y":3.15},{"x":1.85,"y":3.15},{"x":1.95,"y":3.15},{"x":2.04,"y":3.15},{"x":2.14,"y":3.15},{"x":2.22,"y":3.15},{"x":2.30,"y":3.15},{"x":2.38,"y":3.15},{"x":2.46,"y":3.15},{"x":2.55,"y":3.15},{"x":2.63,"y":3.15},{"x":2.72,"y":3.15},{"x":2.80,"y":3.15},{"x":2.88,"y":3.15},{"x":2.96,"y":3.15},{"x":3.04,"y":3.15},{"x":3.12,"y":3.15},{"x":3.25,"y":3.15},
{"x":1.90,"y":3.12},{"x":2.00,"y":3.12},{"x":2.09,"y":3.12},{"x":2.18,"y":3.12},{"x":2.26,"y":3.12},{"x":2.34,"y":3.12},{"x":2.42,"y":3.12},{"x":2.50,"y":3.12},{"x":2.59,"y":3.12},{"x":2.67,"y":3.12},{"x":2.76,"y":3.12},{"x":2.84,"y":3.12},{"x":2.92,"y":3.12},{"x":3.00,"y":3.12},{"x":3.08,"y":3.12},
{"x":1.83,"y":3.09},{"x":1.97,"y":3.09},{"x":2.10,"y":3.09},{"x":2.20,"y":3.09},{"x":2.32,"y":3.09},{"x":2.44,"y":3.09},{"x":2.58,"y":3.09},{"x":2.70,"y":3.09},{"x":2.82,"y":3.09},{"x":2.90,"y":3.09},{"x":2.98,"y":3.09},{"x":3.06,"y":3.09},
{"x":3.19,"y":2.97},{"x":3.24,"y":2.96},{"x":3.31,"y":2.95},{"x":3.38,"y":2.94},{"x":3.43,"y":2.95},{"x":3.47,"y":2.96},{"x":3.08,"y":2.97},{"x":3.15,"y":2.93},{"x":3.61,"y":2.88},{"x":3.97,"y":2.96},
{"x":3.26,"y":2.81},{"x":3.31,"y":2.83},{"x":3.40,"y":2.78},{"x":3.50,"y":2.81},{"x":3.62,"y":2.73},{"x":3.30,"y":2.72},{"x":3.40,"y":2.69},{"x":3.19,"y":2.72},{"x":3.51,"y":2.84},
{"x":2.37,"y":2.90},{"x":2.46,"y":2.96},{"x":2.53,"y":2.96},{"x":2.60,"y":2.96},{"x":2.58,"y":2.88},{"x":2.68,"y":2.94},{"x":2.72,"y":2.88},{"x":2.78,"y":2.96},{"x":2.84,"y":2.94},{"x":2.90,"y":2.97},{"x":2.96,"y":2.90},{"x":2.50,"y":2.81},{"x":2.41,"y":2.98},{"x":2.47,"y":2.86},{"x":2.65,"y":2.84},{"x":2.34,"y":2.79},{"x":2.41,"y":2.90},
{"x":1.96,"y":4.20},{"x":2.16,"y":4.13},{"x":2.23,"y":4.13},{"x":2.30,"y":4.13},{"x":2.31,"y":4.15},{"x":2.39,"y":4.13},{"x":2.46,"y":4.14},{"x":2.60,"y":4.13},{"x":2.65,"y":4.13},{"x":3.04,"y":4.22},{"x":3.17,"y":4.19},
{"x":2.09,"y":3.79},{"x":2.00,"y":3.80},{"x":1.65,"y":3.60},{"x":1.75,"y":3.60},{"x":1.87,"y":3.55},{"x":1.99,"y":3.58},{"x":2.09,"y":3.64},{"x":2.18,"y":3.59},{"x":2.28,"y":3.50},{"x":2.15,"y":3.46},{"x":1.89,"y":3.34},{"x":1.83,"y":3.32},{"x":1.94,"y":3.25},{"x":1.71,"y":3.28},{"x":1.74,"y":3.14},
{"x":2.46,"y":3.95},{"x":2.55,"y":3.89},{"x":2.61,"y":3.95},{"x":2.53,"y":3.78},{"x":2.37,"y":3.68},{"x":2.40,"y":3.63},{"x":2.46,"y":3.56},{"x":2.52,"y":3.53},{"x":2.18,"y":3.68},{"x":2.22,"y":3.62},{"x":2.30,"y":3.53},{"x":2.20,"y":3.48},{"x":2.37,"y":3.56},{"x":2.06,"y":3.56},{"x":1.93,"y":3.56},{"x":1.87,"y":3.51},
{"x":4.12,"y":4.41},{"x":4.09,"y":4.36},{"x":4.44,"y":4.04},{"x":4.31,"y":3.86},{"x":4.37,"y":3.77},{"x":4.30,"y":3.71},{"x":4.19,"y":3.30},
{"x":3.19,"y":3.32},{"x":3.31,"y":3.28},{"x":3.43,"y":3.28},{"x":3.55,"y":3.23},{"x":3.66,"y":3.14},{"x":3.75,"y":3.17},{"x":3.81,"y":3.10},{"x":3.87,"y":3.17},{"x":3.90,"y":3.20},{"x":3.96,"y":3.28},{"x":4.01,"y":3.32},{"x":4.05,"y":3.20},{"x":4.10,"y":3.26},{"x":3.57,"y":3.37},{"x":3.72,"y":3.37},{"x":3.79,"y":3.37},{"x":3.72,"y":3.46}
]
},
"hconcat":[
{
 "width":566,"height":600,
 "title":{"text":"Five-cluster nonlinear models","font":"Liberation Serif","fontSize":31.5,"fontWeight":"normal","color":"black","anchor":"middle","frame":"group","dx":26,"offset":-67,"baseline":"alphabetic"},
 "layer":[
  {"mark":{"type":"rule","color":"#bfbfbf","strokeWidth":1.5},"encoding":{"x":{"datum":1},"x2":{"datum":5},"y":{"datum":1}}},
  {"mark":{"type":"rule","color":"#bfbfbf","strokeWidth":1.5},"encoding":{"x":{"datum":1},"y":{"datum":1},"y2":{"datum":5}}},
  {"data":{"name":"L"},"mark":{"type":"point","shape":"triangle-up","filled":true,"size":58,"color":"black","opacity":1},
   "encoding":{
    "x":{"field":"x","type":"quantitative","scale":{"domain":[0.0561,5.3458],"nice":false,"zero":false},"axis":{"values":[1,2,3,4,5],"format":"d","offset":-92,"title":"Observed PSI","titleX":305,"titleY":79}},
    "y":{"field":"y","type":"quantitative","scale":{"domain":[0.1712,5.5766],"nice":false,"zero":false},"axis":{"values":[1,2,3,4,5],"format":"d","offset":-101,"title":"Predicted PSI","titleX":-72,"titleY":253}}}},
  {"data":{"values":[{"x":1,"y":1,"k":"a"},{"x":1.6,"y":1.6,"k":"a"},{"x":2.14,"y":2.14,"k":"b"},{"x":5,"y":5,"k":"b"}]},
   "mark":{"type":"line","color":"black","strokeWidth":2},
   "encoding":{"x":{"field":"x","type":"quantitative"},"y":{"field":"y","type":"quantitative"},"detail":{"field":"k"}}},
  {"data":{"values":[{"x":1,"y":1.1765,"k":"u"},{"x":4.25,"y":5,"k":"u"},{"x":1.1765,"y":1,"k":"l"},{"x":5,"y":4.25,"k":"l"}]},
   "mark":{"type":"line","color":"black","strokeWidth":2,"strokeDash":[9,5]},
   "encoding":{"x":{"field":"x","type":"quantitative"},"y":{"field":"y","type":"quantitative"},"detail":{"field":"k"}}},
  {"data":{"values":[{"x":1.56,"y":2.04,"t":"+15% error"},{"x":1.88,"y":1.84,"t":"45⁰ line"},{"x":2.10,"y":1.595,"t":"-15% error"}]},
   "mark":{"type":"text","angle":314,"font":"Liberation Serif","fontSize":21,"align":"center","baseline":"middle","color":"black"},
   "encoding":{"x":{"field":"x","type":"quantitative"},"y":{"field":"y","type":"quantitative"},"text":{"field":"t"}}},
  {"data":{"values":[{"x":2.449,"y":1.414,"t":"Data points within"},{"x":2.449,"y":1.117,"t":"±15% error lines = 81%"}]},
   "mark":{"type":"text","font":"Liberation Serif","fontSize":27.5,"align":"left","baseline":"alphabetic","color":"black"},
   "encoding":{"x":{"field":"x","type":"quantitative"},"y":{"field":"y","type":"quantitative"},"text":{"field":"t"}}}
 ]
},
{
 "width":556,"height":600,
 "title":{"text":"Six-cluster linear models","font":"Liberation Serif","fontSize":31.5,"fontWeight":"normal","color":"black","anchor":"middle","frame":"group","dx":36,"offset":-67,"baseline":"alphabetic"},
 "layer":[
  {"mark":{"type":"rule","color":"#bfbfbf","strokeWidth":1.5},"encoding":{"x":{"datum":1},"x2":{"datum":5},"y":{"datum":1}}},
  {"mark":{"type":"rule","color":"#bfbfbf","strokeWidth":1.5},"encoding":{"x":{"datum":1},"y":{"datum":1},"y2":{"datum":5}}},
  {"data":{"name":"R"},"mark":{"type":"point","shape":"triangle-up","filled":true,"size":58,"color":"black","opacity":1},
   "encoding":{
    "x":{"field":"x","type":"quantitative","scale":{"domain":[0.2511,5.1498],"nice":false,"zero":false},"axis":{"values":[1,2,3,4,5],"format":"d","offset":-92,"title":"Observed PSI","titleX":265,"titleY":79}},
    "y":{"field":"y","type":"quantitative","scale":{"domain":[0.1712,5.5766],"nice":false,"zero":false},"axis":{"values":[1,2,3,4,5],"format":"d","offset":-85,"title":"Predicted PSI","titleX":-61,"titleY":294}}}},
  {"data":{"values":[{"x":1,"y":1,"k":"a"},{"x":1.68,"y":1.68,"k":"a"},{"x":2.22,"y":2.22,"k":"b"},{"x":5,"y":5,"k":"b"}]},
   "mark":{"type":"line","color":"black","strokeWidth":2},
   "encoding":{"x":{"field":"x","type":"quantitative"},"y":{"field":"y","type":"quantitative"},"detail":{"field":"k"}}},
  {"data":{"values":[{"x":1,"y":1.1765,"k":"u"},{"x":4.25,"y":5,"k":"u"},{"x":1.1765,"y":1,"k":"l"},{"x":5,"y":4.25,"k":"l"}]},
   "mark":{"type":"line","color":"black","strokeWidth":2,"strokeDash":[9,5]},
   "encoding":{"x":{"field":"x","type":"quantitative"},"y":{"field":"y","type":"quantitative"},"detail":{"field":"k"}}},
  {"data":{"values":[{"x":1.68,"y":2.09,"t":"+15% error"},{"x":1.97,"y":1.90,"t":"45⁰ line"},{"x":2.19,"y":1.72,"t":"-15% error"}]},
   "mark":{"type":"text","angle":316,"font":"Liberation Serif","fontSize":21,"align":"center","baseline":"middle","color":"black"},
   "encoding":{"x":{"field":"x","type":"quantitative"},"y":{"field":"y","type":"quantitative"},"text":{"field":"t"}}},
  {"data":{"values":[{"x":2.60,"y":1.387,"t":"Data points within"},{"x":2.585,"y":1.081,"t":"±15% error lines = 74%"}]},
   "mark":{"type":"text","font":"Liberation Serif","fontSize":27.5,"align":"left","baseline":"alphabetic","color":"black"},
   "encoding":{"x":{"field":"x","type":"quantitative"},"y":{"field":"y","type":"quantitative"},"text":{"field":"t"}}}
 ]
}
]
}
